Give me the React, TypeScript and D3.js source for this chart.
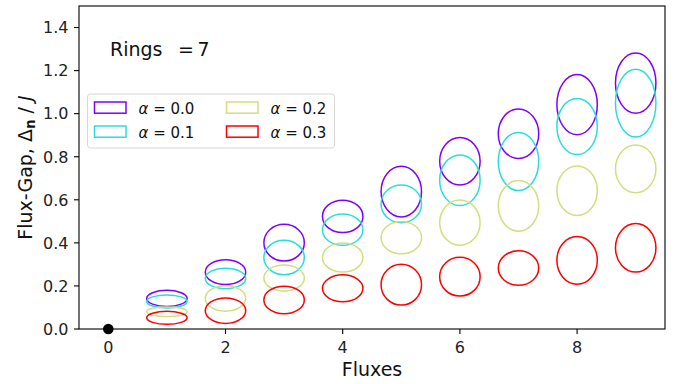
import React from "react";
import * as d3 from "d3";

const fluxes = [1, 2, 3, 4, 5, 6, 7, 8, 9];
const alphaLabels = ["0.0", "0.1", "0.2", "0.3"];
const alphaColors = ["#8000ff", "#2adddd", "#d4dd80", "#ff0000"];

const gap00 = [0.142, 0.264, 0.401, 0.523, 0.638, 0.779, 0.907, 1.042, 1.142];
const gap01 = [0.128, 0.235, 0.332, 0.461, 0.581, 0.691, 0.778, 0.94, 1.049];
const gap02 = [0.08, 0.142, 0.237, 0.332, 0.424, 0.494, 0.572, 0.642, 0.744];
const gap03 = [0.052, 0.085, 0.135, 0.189, 0.206, 0.243, 0.283, 0.319, 0.377];

const spread00 = [0.075, 0.115, 0.17, 0.15, 0.235, 0.22, 0.23, 0.28, 0.28];
const spread01 = [0.06, 0.095, 0.16, 0.145, 0.175, 0.235, 0.27, 0.26, 0.315];
const spread02 = [0.045, 0.118, 0.12, 0.135, 0.15, 0.21, 0.235, 0.23, 0.222];
const spread03 = [0.06, 0.118, 0.128, 0.125, 0.19, 0.18, 0.16, 0.222, 0.225];

const xTicks = [0, 2, 4, 6, 8];
const yTicks = [0.0, 0.2, 0.4, 0.6, 0.8, 1.0, 1.2, 1.4];
const ringsWord = "Rings";
const ringsEq = "=";
const ringsValue = "7";
const originPoint = { x: 0, y: 0 };

const gaps = [gap00, gap01, gap02, gap03];
const spreads = [spread00, spread01, spread02, spread03];

const W = 680;
const H = 384;
const m = { left: 79, right: 665, top: 6, bottom: 329 };
const ELLIPSE_W = 0.69;
const FONT = "'DejaVu Sans', sans-serif";

export default function App() {
  const x = d3.scaleLinear().domain([-0.5, 9.5]).range([m.left, m.right]);
  const y = d3.scaleLinear().domain([0, 1.5]).range([m.bottom, m.top]);

  const ellipses: JSX.Element[] = [];
  fluxes.forEach((f, i) => {
    gaps.forEach((g, a) => {
      const rx = (x(ELLIPSE_W) - x(0)) / 2;
      const ry = (y(0) - y(spreads[a][i])) / 2;
      ellipses.push(
        <ellipse
          key={`e-${i}-${a}`}
          cx={x(f)}
          cy={y(g[i])}
          rx={rx}
          ry={ry}
          fill="none"
          stroke={alphaColors[a]}
          strokeWidth={1.5}
        />
      );
    });
  });

  const legendX = 87.5;
  const legendY = 94;
  const legendW = 247;
  const legendH = 54;

  return (
    <svg
      width={W}
      height={H}
      style={{ position: "absolute", left: 0, top: 0, background: "#fff" }}
      fontFamily={FONT}
    >
      <rect x={0} y={0} width={W} height={H} fill="#fff" />
      <g>{ellipses}</g>

      {/* axes frame */}
      <rect
        x={m.left}
        y={m.top}
        width={m.right - m.left}
        height={m.bottom - m.top}
        fill="none"
        stroke="#000"
        strokeWidth={1.1}
      />

      {/* y ticks */}
      {yTicks.map((t) => (
        <g key={`yt-${t}`}>
          <line x1={m.left - 5} x2={m.left} y1={y(t)} y2={y(t)} stroke="#000" strokeWidth={1.1} />
          <text x={68.5} y={y(t) + 5.8} textAnchor="end" fontSize={16} fill="#222">
            {t.toFixed(1)}
          </text>
        </g>
      ))}

      {/* x ticks */}
      {xTicks.map((t) => (
        <g key={`xt-${t}`}>
          <line x1={x(t)} x2={x(t)} y1={m.bottom} y2={m.bottom + 5} stroke="#000" strokeWidth={1.1} />
          <text x={x(t)} y={352.5} textAnchor="middle" fontSize={16} fill="#222">
            {t}
          </text>
        </g>
      ))}

      {/* origin dot */}
      <circle cx={x(originPoint.x)} cy={y(originPoint.y)} r={5.3} fill="#000" />

      {/* rings label */}
      <text x={110} y={56} fontSize={19} fill="#111">
        {ringsWord}
      </text>
      <text x={178} y={56} fontSize={19} fill="#111">
        {ringsEq}
      </text>
      <text x={197.5} y={56} fontSize={19} fill="#111">
        {ringsValue}
      </text>

      {/* legend */}
      <rect
        x={legendX}
        y={legendY}
        width={legendW}
        height={legendH}
        rx={3}
        fill="#fff"
        fillOpacity={0.8}
        stroke="#d8d8d8"
        strokeWidth={1}
      />
      {alphaLabels.map((lab, a) => {
        const col = Math.floor(a / 2);
        const row = a % 2;
        const hx = 94.5 + col * 132;
        const hy = 102 + row * 24;
        return (
          <g key={`lg-${a}`}>
            <rect x={hx} y={hy} width={31.5} height={11.2} fill="none" stroke={alphaColors[a]} strokeWidth={1.5} />
            <text x={hx + 44} y={hy + 11.5} fontSize={15} fill="#111">
              <tspan fontStyle="italic">α</tspan>
              <tspan> = {lab}</tspan>
            </text>
          </g>
        );
      })}

      {/* axis labels */}
      <text x={(m.left + m.right) / 2} y={376} textAnchor="middle" fontSize={19} fill="#111">
        Fluxes
      </text>
      <text
        transform={`translate(31.5, ${(m.top + m.bottom) / 2}) rotate(-90)`}
        textAnchor="middle"
        fontSize={19}
        fill="#111"
      >
        Flux-Gap, Δ
        <tspan fontWeight="bold" fontSize={13.5} dy={3.5}>n</tspan>
        <tspan dy={-3.5}> / </tspan>
        <tspan fontStyle="italic">J</tspan>
      </text>
    </svg>
  );
}
